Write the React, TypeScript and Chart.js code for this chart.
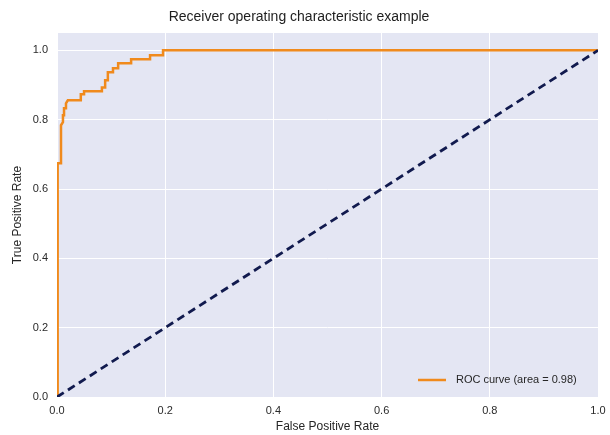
import React, { useEffect, useRef } from "react";
import { Chart, registerables } from "chart.js";

Chart.register(...registerables);

const fpr = [0, 0, 0.0018, 0.0018, 0.0074, 0.0074, 0.011, 0.011, 0.013, 0.013, 0.0166, 0.0166, 0.02, 0.044, 0.044, 0.05, 0.05, 0.083, 0.083, 0.089, 0.089, 0.094, 0.094, 0.1035, 0.1035, 0.113, 0.113, 0.137, 0.137, 0.172, 0.172, 0.196, 0.196, 1.0];
const tpr = [0, 0.55, 0.568, 0.674, 0.674, 0.784, 0.793, 0.813, 0.813, 0.833, 0.833, 0.847, 0.856, 0.856, 0.873, 0.873, 0.882, 0.882, 0.893, 0.893, 0.914, 0.914, 0.937, 0.937, 0.948, 0.948, 0.963, 0.963, 0.974, 0.974, 0.986, 0.986, 1.0, 1.0];
const diagX = [0, 1];
const diagY = [0, 1];
const rocLabel = "ROC curve (area = 0.98)";
const titleText = "Receiver operating characteristic example";
const xTitle = "False Positive Rate";
const yTitle = "True Positive Rate";

const FONT = "'Liberation Sans', Arial, sans-serif";
const ORANGE = "#f08a1c";

const bgPlugin = {
  id: "bgPlugin",
  beforeDraw(chart: any) {
    const { ctx, chartArea } = chart;
    ctx.save();
    ctx.fillStyle = "#e4e6f3";
    ctx.fillRect(chartArea.left, chartArea.top, chartArea.right - chartArea.left, chartArea.bottom - chartArea.top);
    ctx.restore();
  },
};

const legendPlugin = {
  id: "innerLegend",
  afterDraw(chart: any) {
    const { ctx, chartArea } = chart;
    const y = chartArea.bottom - 17;
    const x0 = chartArea.right - 180;
    ctx.save();
    ctx.strokeStyle = ORANGE;
    ctx.lineWidth = 2.5;
    ctx.beginPath();
    ctx.moveTo(x0, y);
    ctx.lineTo(x0 + 28, y);
    ctx.stroke();
    ctx.fillStyle = "#262626";
    ctx.font = `11px ${FONT}`;
    ctx.textBaseline = "middle";
    ctx.fillText(rocLabel, x0 + 38, y);
    ctx.restore();
  },
};

export default function App() {
  const ref = useRef<HTMLCanvasElement | null>(null);
  useEffect(() => {
    document.body.style.margin = "0";
    const canvas = ref.current;
    if (!canvas) return;
    const chart = new Chart(canvas, {
      type: "scatter",
      data: {
        datasets: [
          {
            label: rocLabel,
            data: fpr.map((x, i) => ({ x, y: tpr[i] })),
            showLine: true,
            borderColor: ORANGE,
            borderWidth: 2.5,
            pointRadius: 0,
            tension: 0,
            order: 2,
          },
          {
            label: "diag",
            data: diagX.map((x, i) => ({ x, y: diagY[i] })),
            showLine: true,
            borderColor: "#111a4e",
            borderWidth: 2.8,
            borderDash: [8, 5],
            pointRadius: 0,
            order: 1,
          },
        ],
      },
      options: {
        responsive: false,
        animation: false,
        layout: { padding: { left: 0, right: 12, top: 0, bottom: 0 } },
        plugins: {
          legend: { display: false },
          tooltip: { enabled: false },
          title: {
            display: true,
            text: titleText,
            color: "#1e1e1e",
            font: { family: FONT, size: 14, weight: "normal" },
            padding: { top: 8.6, bottom: 7.6 },
          },
        },
        scales: {
          x: {
            type: "linear",
            min: 0,
            max: 1,
            border: { display: false },
            grid: { color: "#ffffff", lineWidth: 1, drawTicks: false },
            ticks: {
              stepSize: 0.2,
              padding: 7,
              color: "#2a2a2a",
              font: { family: FONT, size: 11 },
              callback: (v: any) => Number(v).toFixed(1),
            },
            title: {
              display: true,
              text: xTitle,
              color: "#262626",
              font: { family: FONT, size: 12 },
              padding: { top: 0, bottom: 0.8 },
            },
            afterFit: (scale: any) => {
              scale.height = 38;
              scale.paddingLeft = 0;
              scale.paddingRight = 0;
            },
          },
          y: {
            type: "linear",
            min: 0,
            max: 1.05,
            border: { display: false },
            grid: { color: "#ffffff", lineWidth: 1, drawTicks: false },
            ticks: {
              stepSize: 0.2,
              padding: 9,
              color: "#2a2a2a",
              font: { family: FONT, size: 11 },
              callback: (v: any) => Number(v).toFixed(1),
            },
            afterBuildTicks: (scale: any) => {
              scale.ticks = scale.ticks.filter((t: any) => t.value <= 1.0001);
            },
            title: {
              display: true,
              text: yTitle,
              color: "#262626",
              font: { family: FONT, size: 12 },
              padding: { top: 10.8, bottom: 0 },
            },
            afterFit: (scale: any) => {
              scale.width = 57;
              scale.paddingTop = 0;
              scale.paddingBottom = 0;
            },
          },
        },
      },
      plugins: [bgPlugin, legendPlugin],
    });
    return () => chart.destroy();
  }, []);
  return (
    <div style={{ width: 610, height: 435, background: "#fff" }}>
      <canvas ref={ref} width={610} height={435} style={{ display: "block" }} />
    </div>
  );
}
